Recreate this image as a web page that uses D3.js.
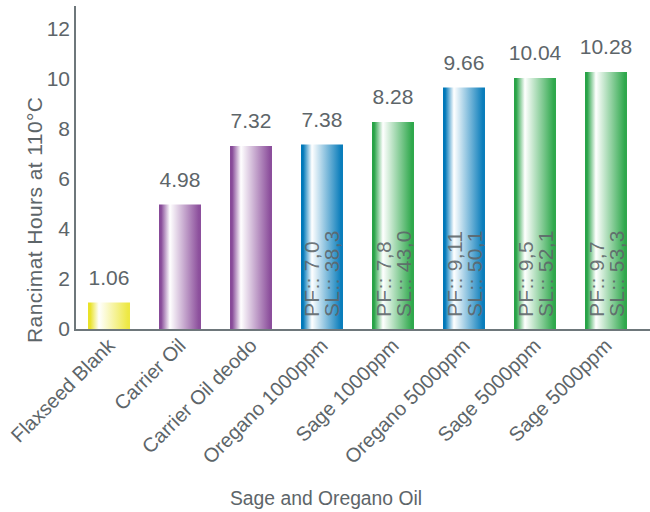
<!DOCTYPE html>
<html>
<head>
<meta charset="utf-8">
<script src="https://cdn.jsdelivr.net/npm/d3@7"></script>
<style>
  html, body { margin: 0; padding: 0; background: #fff; }
  svg text { font-family: "Liberation Sans", Arial, sans-serif; }
</style>
</head>
<body>
<svg id="chart" width="650" height="512"></svg>
<script>
const categories = ["Flaxseed Blank", "Carrier Oil", "Carrier Oil deodo", "Oregano 1000ppm",
  "Sage 1000ppm", "Oregano 5000ppm", "Sage 5000ppm", "Sage 5000ppm"];
const values = [1.06, 4.98, 7.32, 7.38, 8.28, 9.66, 10.04, 10.28];
const valueLabels = ["1.06", "4.98", "7.32", "7.38", "8.28", "9.66", "10.04", "10.28"];
const groups = ["yellow", "purple", "purple", "blue", "green", "blue", "green", "green"];
const pfLabels = ["", "", "", "PF:: 7,0", "PF:: 7,8", "PF:: 9,11", "PF:: 9,5", "PF:: 9,7"];
const slLabels = ["", "", "", "SL:: 38,3", "SL:: 43,0", "SL:: 50,1", "SL:: 52,1", "SL:: 53,3"];
const yTicks = [0, 2, 4, 6, 8, 10, 12];
const yTitle = "Rancimat Hours at 110°C";
const xTitle = "Sage and Oregano Oil";

const palette = {
  yellow: ["#e9e228", "#ffffff", "#ede843"],
  purple: ["#874a98", "#ffffff", "#8c4f9c"],
  blue:   ["#0078b9", "#ffffff", "#0a7dbb"],
  green:  ["#28a347", "#ffffff", "#2fa84c"]
};

const svg = d3.select("#chart");
const textColor = "#5d6569";
const axisColor = "#6e777b";

const y = d3.scaleLinear().domain([0, 12.9]).range([329, 6.5]);
const x = d3.scaleBand().domain(d3.range(categories.length))
  .range([73.8, 641.2]).paddingInner(0.4085).paddingOuter(0.2);

// gradients
const defs = svg.append("defs");
Object.entries(palette).forEach(([k, c]) => {
  const g = defs.append("linearGradient").attr("id", "g-" + k)
    .attr("x1", "0%").attr("x2", "100%").attr("y1", "0%").attr("y2", "0%");
  g.append("stop").attr("offset", "0%").attr("stop-color", c[0]);
  g.append("stop").attr("offset", "5%").attr("stop-color", c[0]);
  g.append("stop").attr("offset", "26%").attr("stop-color", c[1]);
  g.append("stop").attr("offset", "95%").attr("stop-color", c[2]);
  g.append("stop").attr("offset", "100%").attr("stop-color", c[2]);
});

// bars
svg.append("g").selectAll("rect").data(values).join("rect")
  .attr("x", (d, i) => x(i))
  .attr("width", x.bandwidth())
  .attr("y", d => y(d))
  .attr("height", d => y(0) - y(d))
  .attr("fill", (d, i) => "url(#g-" + groups[i] + ")");

// value labels
svg.append("g").selectAll("text").data(values).join("text")
  .attr("x", (d, i) => x(i) + x.bandwidth() / 2)
  .attr("y", d => y(d) - 18)
  .attr("text-anchor", "middle")
  .attr("font-size", 21)
  .attr("fill", textColor)
  .text((d, i) => valueLabels[i]);

// inside annotations
const ann = svg.append("g");
categories.forEach((c, i) => {
  if (!pfLabels[i]) return;
  const cx = x(i) + x.bandwidth() / 2;
  const t = ann.append("text")
    .attr("transform", `translate(${cx},${y(0) - 12}) rotate(-90)`)
    .attr("font-size", 21)
    .attr("letter-spacing", 0.3)
    .attr("fill", textColor)
    .attr("fill-opacity", 0.9);
  t.append("tspan").attr("x", 0).attr("y", -2.5).text(pfLabels[i]);
  t.append("tspan").attr("x", 0).attr("y", 17.5).text(slLabels[i]);
});

// y axis
const yAxis = d3.axisLeft(y).tickValues(yTicks).tickSize(0).tickPadding(5);
const ya = svg.append("g").attr("transform", "translate(75,0)").call(yAxis);
ya.select(".domain").remove();
ya.selectAll("text").attr("font-size", 21).attr("fill", textColor)
  .attr("font-family", "Liberation Sans, Arial, sans-serif");
svg.append("line").attr("x1", 75).attr("x2", 75).attr("y1", 6).attr("y2", 330)
  .attr("stroke", axisColor).attr("stroke-width", 2);

// x axis
const xAxis = d3.axisBottom(x).tickFormat(i => categories[i]).tickSize(0);
const xa = svg.append("g").attr("transform", "translate(0,329)").call(xAxis);
xa.select(".domain").remove();
xa.selectAll("text")
  .attr("font-size", 20)
  .attr("fill", textColor)
  .attr("font-family", "Liberation Sans, Arial, sans-serif")
  .attr("text-anchor", "end")
  .attr("transform", "translate(7,18) rotate(-45)")
  .attr("x", 0).attr("y", 0).attr("dy", 0);
svg.append("line").attr("x1", 74).attr("x2", 650).attr("y1", 330).attr("y2", 330)
  .attr("stroke", axisColor).attr("stroke-width", 2);

// titles
svg.append("text")
  .attr("transform", "translate(42,220) rotate(-90)")
  .attr("text-anchor", "middle")
  .attr("font-size", 21)
  .attr("fill", textColor)
  .attr("textLength", 246)
  .text(yTitle);
svg.append("text")
  .attr("x", 326).attr("y", 505)
  .attr("text-anchor", "middle")
  .attr("font-size", 20)
  .attr("fill", textColor)
  .attr("textLength", 192)
  .attr("lengthAdjust", "spacingAndGlyphs")
  .text(xTitle);
</script>
</body>
</html>
